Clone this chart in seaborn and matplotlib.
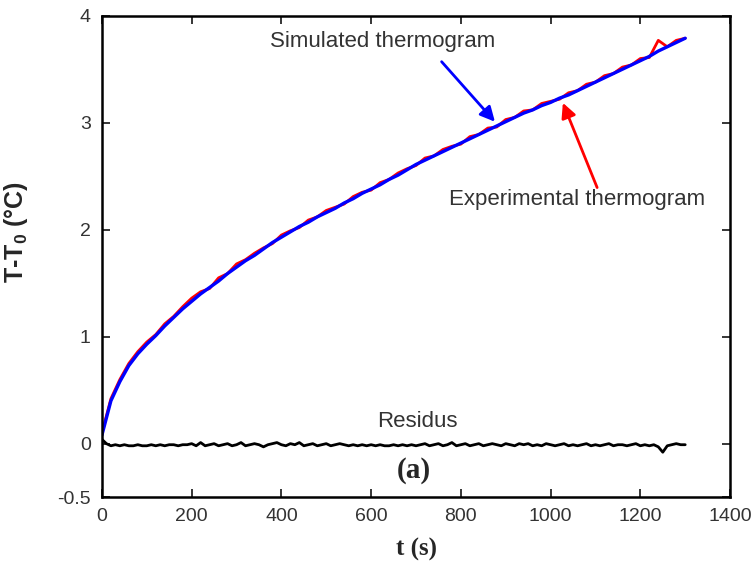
import numpy as np
import matplotlib
matplotlib.use("Agg")
import matplotlib.pyplot as plt
import seaborn as sns

# temps (s), pas de 20 s pour les thermogrammes, 10 s pour les residus
t_thermo = np.arange(0, 1301, 20)
t_res = np.arange(0, 1301, 10)

simule = [0.08, 0.40, 0.58, 0.73, 0.84, 0.93, 1.01, 1.10, 1.18, 1.26,
          1.33, 1.40, 1.46, 1.52, 1.59, 1.65, 1.71, 1.76, 1.82, 1.88,
          1.93, 1.98, 2.03, 2.07, 2.12, 2.16, 2.20, 2.25, 2.29, 2.34,
          2.38, 2.42, 2.47, 2.51, 2.56, 2.61, 2.65, 2.69, 2.73, 2.77,
          2.81, 2.85, 2.89, 2.93, 2.97, 3.01, 3.05, 3.09, 3.12, 3.16,
          3.19, 3.23, 3.26, 3.30, 3.34, 3.38, 3.42, 3.46, 3.50, 3.54,
          3.58, 3.62, 3.67, 3.71, 3.75, 3.79]

experimental = [0.10, 0.42, 0.60, 0.75, 0.86, 0.95, 1.02, 1.12, 1.19, 1.28,
                1.36, 1.42, 1.45, 1.55, 1.59, 1.68, 1.72, 1.78, 1.83, 1.87,
                1.95, 1.99, 2.02, 2.09, 2.12, 2.18, 2.21, 2.24, 2.31, 2.35,
                2.37, 2.44, 2.47, 2.53, 2.57, 2.60, 2.67, 2.69, 2.75, 2.78,
                2.80, 2.87, 2.89, 2.95, 2.96, 3.03, 3.05, 3.11, 3.12, 3.18,
                3.20, 3.22, 3.28, 3.30, 3.36, 3.38, 3.44, 3.46, 3.52, 3.54,
                3.60, 3.61, 3.77, 3.71, 3.77, 3.79]

residus = [0.04, 0.00, -0.02, -0.01, -0.02, -0.01, -0.02, -0.02, -0.01, -0.02,
           -0.02, -0.01, -0.02, -0.01, -0.02, -0.01, -0.01, -0.02, -0.01, -0.01,
           0.00, -0.02, 0.01, -0.02, -0.01, 0.00, -0.02, -0.01, 0.00, -0.02,
           -0.01, 0.01, -0.02, -0.01, 0.00, -0.01, -0.03, -0.01, 0.00, 0.01,
           -0.01, -0.02, 0.00, -0.01, 0.01, -0.02, -0.01, 0.00, -0.02, -0.01,
           0.00, -0.02, -0.01, 0.00, -0.01, -0.02, -0.01, -0.02, -0.01, -0.02,
           -0.01, -0.02, -0.01, -0.02, -0.02, -0.01, -0.02, -0.01, -0.02, -0.01,
           -0.02, -0.01, 0.00, -0.02, -0.01, 0.00, -0.02, -0.01, 0.01, -0.02,
           -0.01, 0.00, -0.02, -0.01, 0.00, -0.02, -0.01, 0.00, -0.01, -0.02,
           0.00, -0.01, -0.02, 0.00, -0.01, 0.00, -0.02, -0.01, -0.02, 0.00,
           -0.01, -0.02, -0.01, 0.00, -0.02, -0.01, -0.02, -0.01, 0.00, -0.02,
           -0.01, -0.02, -0.01, 0.00, -0.02, -0.01, -0.01, -0.02, -0.01, 0.00,
           -0.02, -0.01, -0.02, -0.01, -0.03, -0.08, -0.02, -0.01, 0.00, -0.01,
           -0.01]

xticks = [0, 200, 400, 600, 800, 1000, 1200, 1400]
yticks = [-0.5, 0, 1, 2, 3, 4]

sns.set_style("ticks")
plt.rcParams["font.family"] = ["Liberation Sans", "DejaVu Sans"]
plt.rcParams["mathtext.fontset"] = "custom"
plt.rcParams["mathtext.bf"] = "Liberation Sans:bold"

fig = plt.figure(figsize=(7.55, 5.63), dpi=100)
ax = fig.add_axes([0.135, 0.117, 0.832, 0.855])

sns.lineplot(x=t_thermo, y=experimental, color="red", linewidth=2.0, ax=ax)
sns.lineplot(x=t_thermo, y=simule, color="blue", linewidth=2.4, ax=ax)
sns.lineplot(x=t_res, y=residus, color="black", linewidth=2.0, ax=ax)

ax.set_xlim(0, 1400)
ax.set_ylim(-0.5, 4)
ax.set_xticks(xticks)
ax.set_yticks(yticks)
ax.set_yticklabels(["-0.5", "0", "1", "2", "3", "4"])
ax.tick_params(direction="in", length=6, width=1.3, top=True, right=True,
               labelsize=14, labelcolor="#333333", pad=8)
for s in ax.spines.values():
    s.set_linewidth(1.8)
    s.set_color("black")

ax.set_xlabel("t (s)", fontsize=18, fontweight="bold", family="Liberation Serif")
ax.set_ylabel(r"T-T$_\mathbf{0}$ (°C)", fontsize=18, fontweight="bold")
ax.xaxis.set_label_coords(0.5, -0.085)
ax.yaxis.set_label_coords(-0.115, 0.55)

# annotations
ax.text(374, 3.76, "Simulated thermogram", fontsize=16, color="#333333", va="center")
ax.annotate("", xy=(880, 2.99), xytext=(753, 3.59),
            arrowprops=dict(arrowstyle="-|>", color="blue", lw=2, mutation_scale=22))
ax.text(774, 2.28, "Experimental thermogram", fontsize=16, color="#333333", va="center")
ax.annotate("", xy=(1025, 3.21), xytext=(1106, 2.37),
            arrowprops=dict(arrowstyle="-|>", color="red", lw=2, mutation_scale=22))
ax.text(613, 0.21, "Residus", fontsize=16, color="#333333", va="center")
ax.text(658, -0.25, "(a)", fontsize=21, fontweight="bold", family="Liberation Serif",
        va="center")

fig.savefig("out.png", dpi=100)
